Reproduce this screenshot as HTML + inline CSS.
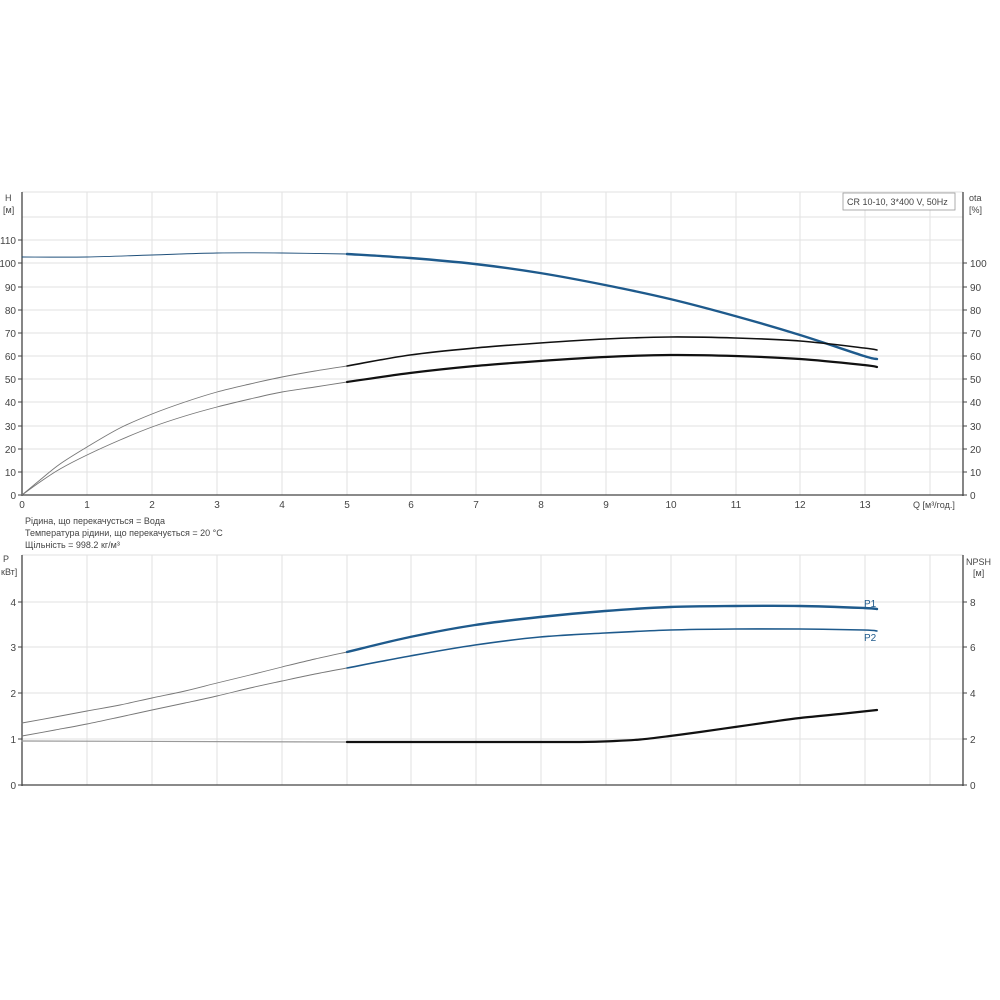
<!DOCTYPE html>
<html><head><meta charset="utf-8"><style>
html,body{margin:0;padding:0;background:#fff;}
svg{display:block;font-family:"Liberation Sans",sans-serif;}
polyline{stroke-linejoin:round;stroke-linecap:round;}
</style></head><body>
<svg id="c" width="1000" height="1000" viewBox="0 0 1000 1000" xmlns="http://www.w3.org/2000/svg">
<rect width="1000" height="1000" fill="#fff"/>
<g stroke="#e2e2e2" stroke-width="1">
<line x1="87" y1="192" x2="87" y2="495"/><line x1="152" y1="192" x2="152" y2="495"/><line x1="217" y1="192" x2="217" y2="495"/><line x1="282" y1="192" x2="282" y2="495"/><line x1="347" y1="192" x2="347" y2="495"/><line x1="411" y1="192" x2="411" y2="495"/><line x1="476" y1="192" x2="476" y2="495"/><line x1="541" y1="192" x2="541" y2="495"/><line x1="606" y1="192" x2="606" y2="495"/><line x1="671" y1="192" x2="671" y2="495"/><line x1="736" y1="192" x2="736" y2="495"/><line x1="800" y1="192" x2="800" y2="495"/><line x1="865" y1="192" x2="865" y2="495"/><line x1="930" y1="192" x2="930" y2="495"/>
<line x1="22" y1="472" x2="963" y2="472"/><line x1="22" y1="449" x2="963" y2="449"/><line x1="22" y1="426" x2="963" y2="426"/><line x1="22" y1="402" x2="963" y2="402"/><line x1="22" y1="379" x2="963" y2="379"/><line x1="22" y1="356" x2="963" y2="356"/><line x1="22" y1="333" x2="963" y2="333"/><line x1="22" y1="310" x2="963" y2="310"/><line x1="22" y1="287" x2="963" y2="287"/><line x1="22" y1="263" x2="963" y2="263"/><line x1="22" y1="240" x2="963" y2="240"/><line x1="22" y1="217" x2="963" y2="217"/><line x1="22" y1="192" x2="963" y2="192"/>
<line x1="87" y1="555" x2="87" y2="785"/><line x1="152" y1="555" x2="152" y2="785"/><line x1="217" y1="555" x2="217" y2="785"/><line x1="282" y1="555" x2="282" y2="785"/><line x1="347" y1="555" x2="347" y2="785"/><line x1="411" y1="555" x2="411" y2="785"/><line x1="476" y1="555" x2="476" y2="785"/><line x1="541" y1="555" x2="541" y2="785"/><line x1="606" y1="555" x2="606" y2="785"/><line x1="671" y1="555" x2="671" y2="785"/><line x1="736" y1="555" x2="736" y2="785"/><line x1="800" y1="555" x2="800" y2="785"/><line x1="865" y1="555" x2="865" y2="785"/><line x1="930" y1="555" x2="930" y2="785"/>
<line x1="22" y1="739" x2="963" y2="739"/><line x1="22" y1="693" x2="963" y2="693"/><line x1="22" y1="647" x2="963" y2="647"/><line x1="22" y1="602" x2="963" y2="602"/><line x1="22" y1="555" x2="963" y2="555"/>
</g>
<g stroke="#444" stroke-width="1.3" fill="none">
<line x1="22" y1="192" x2="22" y2="496"/><line x1="22" y1="495" x2="963" y2="495"/><line x1="963" y1="192" x2="963" y2="496"/>
<line x1="22" y1="555" x2="22" y2="786"/><line x1="22" y1="785" x2="963" y2="785"/><line x1="963" y1="555" x2="963" y2="786"/>
</g>
<g stroke="#444" stroke-width="1">
<line x1="18" y1="495" x2="22" y2="495"/><line x1="18" y1="472" x2="22" y2="472"/><line x1="18" y1="449" x2="22" y2="449"/><line x1="18" y1="426" x2="22" y2="426"/><line x1="18" y1="402" x2="22" y2="402"/><line x1="18" y1="379" x2="22" y2="379"/><line x1="18" y1="356" x2="22" y2="356"/><line x1="18" y1="333" x2="22" y2="333"/><line x1="18" y1="310" x2="22" y2="310"/><line x1="18" y1="287" x2="22" y2="287"/><line x1="18" y1="263" x2="22" y2="263"/><line x1="18" y1="240" x2="22" y2="240"/>
<line x1="963" y1="495" x2="967" y2="495"/><line x1="963" y1="472" x2="967" y2="472"/><line x1="963" y1="449" x2="967" y2="449"/><line x1="963" y1="426" x2="967" y2="426"/><line x1="963" y1="402" x2="967" y2="402"/><line x1="963" y1="379" x2="967" y2="379"/><line x1="963" y1="356" x2="967" y2="356"/><line x1="963" y1="333" x2="967" y2="333"/><line x1="963" y1="310" x2="967" y2="310"/><line x1="963" y1="287" x2="967" y2="287"/><line x1="963" y1="263" x2="967" y2="263"/>
<line x1="18" y1="785" x2="22" y2="785"/><line x1="18" y1="739" x2="22" y2="739"/><line x1="18" y1="693" x2="22" y2="693"/><line x1="18" y1="647" x2="22" y2="647"/><line x1="18" y1="602" x2="22" y2="602"/>
<line x1="963" y1="785" x2="967" y2="785"/><line x1="963" y1="739" x2="967" y2="739"/><line x1="963" y1="693" x2="967" y2="693"/><line x1="963" y1="647" x2="967" y2="647"/><line x1="963" y1="602" x2="967" y2="602"/>
</g>
<g font-size="10" fill="#444">
<g text-anchor="end">
<text x="16" y="499">0</text><text x="16" y="476">10</text><text x="16" y="453">20</text><text x="16" y="430">30</text><text x="16" y="406">40</text><text x="16" y="383">50</text><text x="16" y="360">60</text><text x="16" y="337">70</text><text x="16" y="314">80</text><text x="16" y="291">90</text><text x="16" y="267">100</text><text x="16" y="244">110</text>
<text x="16" y="789">0</text><text x="16" y="743">1</text><text x="16" y="697">2</text><text x="16" y="651">3</text><text x="16" y="606">4</text>
</g>
<text x="5" y="201" font-size="9">H</text><text x="3" y="213" font-size="9">[м]</text>
<text x="3" y="562" font-size="9">P</text><text x="1" y="575" font-size="9">кВт]</text>
<text x="969" y="201" font-size="9">ota</text><text x="969" y="213" font-size="9">[%]</text>
<text x="966" y="565" font-size="9">NPSH</text><text x="973" y="576" font-size="9">[м]</text>
<text x="970" y="499">0</text><text x="970" y="476">10</text><text x="970" y="453">20</text><text x="970" y="430">30</text><text x="970" y="406">40</text><text x="970" y="383">50</text><text x="970" y="360">60</text><text x="970" y="337">70</text><text x="970" y="314">80</text><text x="970" y="291">90</text><text x="970" y="267">100</text>
<text x="970" y="789">0</text><text x="970" y="743">2</text><text x="970" y="697">4</text><text x="970" y="651">6</text><text x="970" y="606">8</text>
<g text-anchor="middle">
<text x="22" y="508">0</text><text x="87" y="508">1</text><text x="152" y="508">2</text><text x="217" y="508">3</text><text x="282" y="508">4</text><text x="347" y="508">5</text><text x="411" y="508">6</text><text x="476" y="508">7</text><text x="541" y="508">8</text><text x="606" y="508">9</text><text x="671" y="508">10</text><text x="736" y="508">11</text><text x="800" y="508">12</text><text x="865" y="508">13</text>
</g>
<text x="913" y="508" font-size="9">Q [м³/год.]</text>
<text x="25" y="524" font-size="9">Рідина, що перекачусться = Вода</text>
<text x="25" y="536" font-size="9">Температура рідини, що перекачується = 20 °C</text>
<text x="25" y="548" font-size="9">Щільність = 998.2 кг/м³</text>
</g>
<rect x="843" y="193" width="112" height="17" fill="#fff" stroke="#999" stroke-width="0.8"/>
<text x="847" y="205" font-size="9" fill="#444">CR 10-10, 3*400 V, 50Hz</text>
<g fill="none">
<polyline class="s" stroke="#1e4f7a" stroke-width="0.9" points="22,257 87,257 152,255 217,253 282,253 347,254"/>
<polyline class="s" stroke="#1e5a8c" stroke-width="2.4" points="347,254 410,258 475,264 540,273 605,285 670,299 735,316 800,335 864,356 877,359"/>
<polyline class="s" stroke="#777" stroke-width="0.9" points="22,495 40,480 60,464 87,447 120,428 152,414 185,402 217,392 250,384 282,377 315,371 347,366"/>
<polyline class="s" stroke="#111" stroke-width="1.6" points="347,366 410,355 475,348 540,343 605,339 670,337 735,338 800,341 864,348 877,350"/>
<polyline class="s" stroke="#777" stroke-width="0.9" points="22,495 40,482 60,469 87,455 120,440 152,427 185,416 217,407 250,399 282,392 315,387 347,382"/>
<polyline class="s" stroke="#111" stroke-width="2.2" points="347,382 410,373 475,366 540,361 605,357 670,355 735,356 800,359 864,365 877,367"/>
<polyline class="s" stroke="#777" stroke-width="0.9" points="22,723 55,717 87,711 120,705 152,698 185,691 217,683 250,675 282,667 315,659 347,652"/>
<polyline class="s" stroke="#1e5a8c" stroke-width="2.4" points="347,652 410,637 475,625 540,617 605,611 670,607 735,606 800,606 864,608 877,609"/>
<polyline class="s" stroke="#777" stroke-width="0.9" points="22,736 55,730 87,724 120,717 152,710 185,703 217,696 250,688 282,681 315,674 347,668"/>
<polyline class="s" stroke="#1e5a8c" stroke-width="1.6" points="347,668 410,656 475,645 540,637 605,633 670,630 735,629 800,629 864,630 877,631"/>
<polyline stroke="#999" stroke-width="1.2" points="22,741 347,742"/>
<polyline class="s" stroke="#111" stroke-width="2.2" points="347,742 500,742 580,742 615,741 640,739.5 670,736 700,732 735,727 770,722 800,718 840,714 877,710"/>
</g>
<text x="864" y="607" font-size="10" fill="#1e5a8c">P1</text>
<text x="864" y="641" font-size="10" fill="#1e5a8c">P2</text>
</svg>
<script>
(function(){
var ns="http://www.w3.org/2000/svg";
document.querySelectorAll("polyline.s").forEach(function(pl){
 var p=pl.getAttribute("points").trim().split(/\s+/).map(function(s){return s.split(",").map(Number);});
 if(p.length<3)return;
 var d="M"+p[0][0]+","+p[0][1];
 for(var i=0;i<p.length-1;i++){
  var p0=p[i?i-1:0],p1=p[i],p2=p[i+1],p3=p[i+2<p.length?i+2:i+1];
  var c1x=p1[0]+(p2[0]-p0[0])/6,c1y=p1[1]+(p2[1]-p0[1])/6;
  var c2x=p2[0]-(p3[0]-p1[0])/6,c2y=p2[1]-(p3[1]-p1[1])/6;
  d+=" C"+c1x+","+c1y+" "+c2x+","+c2y+" "+p2[0]+","+p2[1];
 }
 var path=document.createElementNS(ns,"path");
 path.setAttribute("d",d);
 path.setAttribute("stroke",pl.getAttribute("stroke"));
 path.setAttribute("stroke-width",pl.getAttribute("stroke-width"));
 path.setAttribute("fill","none");
 path.setAttribute("stroke-linecap","round");
 pl.parentNode.replaceChild(path,pl);
});
})();
</script>
</body></html>
